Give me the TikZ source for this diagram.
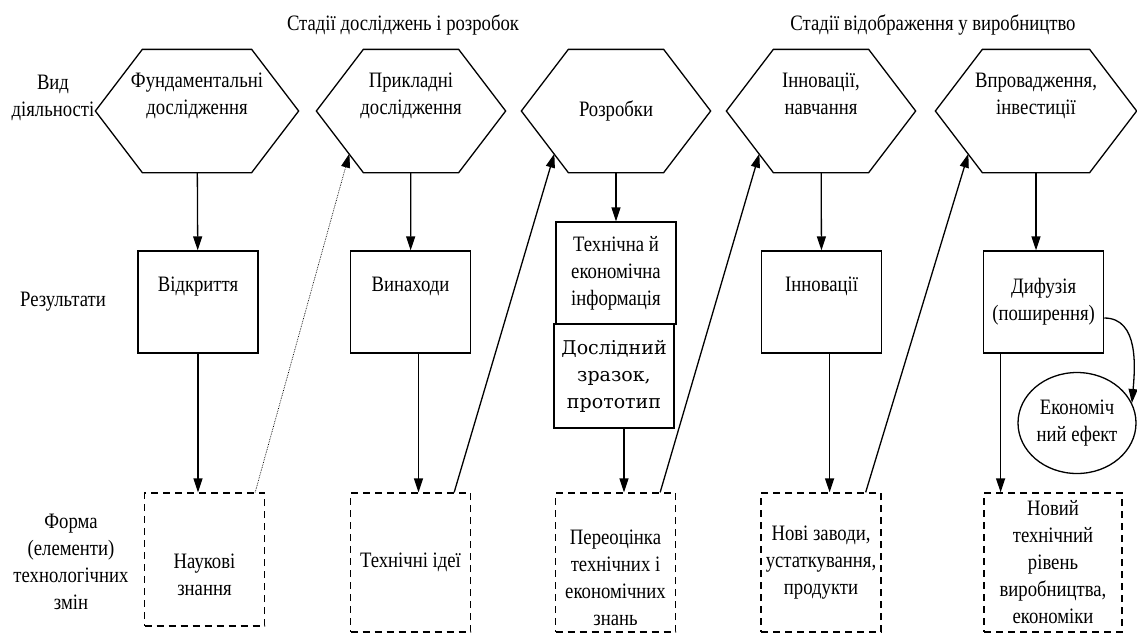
\documentclass[tikz,border=0pt]{standalone}
\usepackage{fontspec}
\setmainfont[FakeStretch=0.85]{Liberation Serif}
\newfontfamily\protofont{DejaVu Serif}
\usetikzlibrary{calc,positioning,shapes.geometric,arrows.meta}
\begin{document}
\begin{tikzpicture}[
	x=1pt, y=-1pt,
	align=center,
	>={Triangle[length=14pt,width=9pt]},
	line width=1.3pt,
	font=\fontsize{22}{27}\selectfont,
	hexa/.style={
		minimum width=#1, minimum height=122, inner sep=0pt,
		append after command={\pgfextra{\let\hexnode\tikzlastnode
			\draw (\hexnode.west) -- ([xshift=47]\hexnode.north west)
			-- ([xshift=-47]\hexnode.north east) -- (\hexnode.east)
			-- ([xshift=-47]\hexnode.south east) -- ([xshift=47]\hexnode.south west) -- cycle;}}
	},
	hexa/.default=188,
	result/.style={rectangle, draw, minimum width=120, minimum height=102, inner sep=2pt},
	form/.style={rectangle, draw, dash pattern=on 7pt off 5pt, minimum width=120, minimum height=139, inner sep=1pt},
	effect/.style={ellipse, draw, minimum width=118, minimum height=101, inner sep=0pt}
	]
    \useasboundingbox (0,0) rectangle (1137,633);
    % stages
    \node at (403,25) (stageA) {Стадії досліджень і розробок};
    \node at (933,25) (stageB) {Стадії відображення у виробництво};
    % row labels
    \node at (53,98) (rowA) {Вид\\діяльності};
    \node at (63,302) (rowB) {Результати};
    \node at (71,562) (rowC) {Форма\\(елементи)\\технологічних\\змін};

    % activities
    \node[hexa=202] at (197,111) (fund) {Фундаментальні\\дослідження\\\strut};
    \node[hexa] at (411,111) (appl) {Прикладні\\дослідження\\\strut};
    \node[hexa] at (616,111) (devl) {Розробки};
    \node[hexa] at (821,111) (innov) {Інновації,\\навчання\\\strut};
    \node[hexa=200] at (1036,111) (impl) {Впровадження,\\інвестиції\\\strut};

    % results
    \node[result] at (198,302) (disc) {Відкриття\\\strut} edge[<-] (fund);
    \node[result] at (410.5,302) (inv) {Винаходи\\\strut} edge[<-] (appl);
    \node[result] at (616,273) (info) {Технічна й\\економічна\\інформація} edge[<-] (devl);
    \node[result, minimum height=104, font=\protofont\fontsize{19}{27}\selectfont] at (614,376) (proto) {Дослідний\\зразок,\\прототип};
    \node[result] at (821.6,302) (inno) {Інновації\\\strut} edge[<-] (innov);
    \node[result] at (1043.6,302) (diff) {Дифузія\\(поширення)};
    \node[effect] at (1077,423) (eff) {Економіч\\ний ефект};

    % forms of change
    \node[form, minimum height=133] at (204.5,559.5) (know) {\strut\\Наукові\\знання};
    \node[form] at (410.5,562.5) (ideas) {Технічні ідеї};
    \node[form] at (615.5,562.5) (reval) {\strut\\Переоцінка\\технічних і\\економічних\\знань};
    \node[form] at (821,562.5) (plants) {Нові заводи,\\устаткування,\\продукти};
    \node[form, minimum width=138] at (1053,562.5) (level) {Новий\\технічний\\рівень\\виробництва,\\економіки};

    % links
    \draw[->] (impl) -- (impl |- diff.north);
    \draw[->] (disc) -- (disc |- know.north);
    \draw[->] ([xshift=8]inv.south) -- ([xshift=8]inv.south |- ideas.north);
    \draw[->] ([xshift=10]proto.south) -- ([xshift=10]proto.south |- reval.north);
    \draw[->] ([xshift=8]inno.south) -- ([xshift=8]inno.south |- plants.north);
    \draw[->] ([xshift=-43]diff.south) -- ([xshift=-43]diff.south |- level.north);
    \draw[->, densely dotted, line width=0.7pt] ([xshift=-10]know.north east) -- ([xshift=33,yshift=19]appl.south west);
    \draw[->] ([xshift=-17]ideas.north east) -- ([xshift=33,yshift=19]devl.south west);
    \draw[->] ([xshift=-16]reval.north east) -- ([xshift=33,yshift=19]innov.south west);
    \draw[->] ([xshift=-16]plants.north east) -- ([xshift=33,yshift=19]impl.south west);
    \draw[->] ([yshift=-16]diff.east) to[out=0, in=85] (eff.20);

\end{tikzpicture}
\end{document}
